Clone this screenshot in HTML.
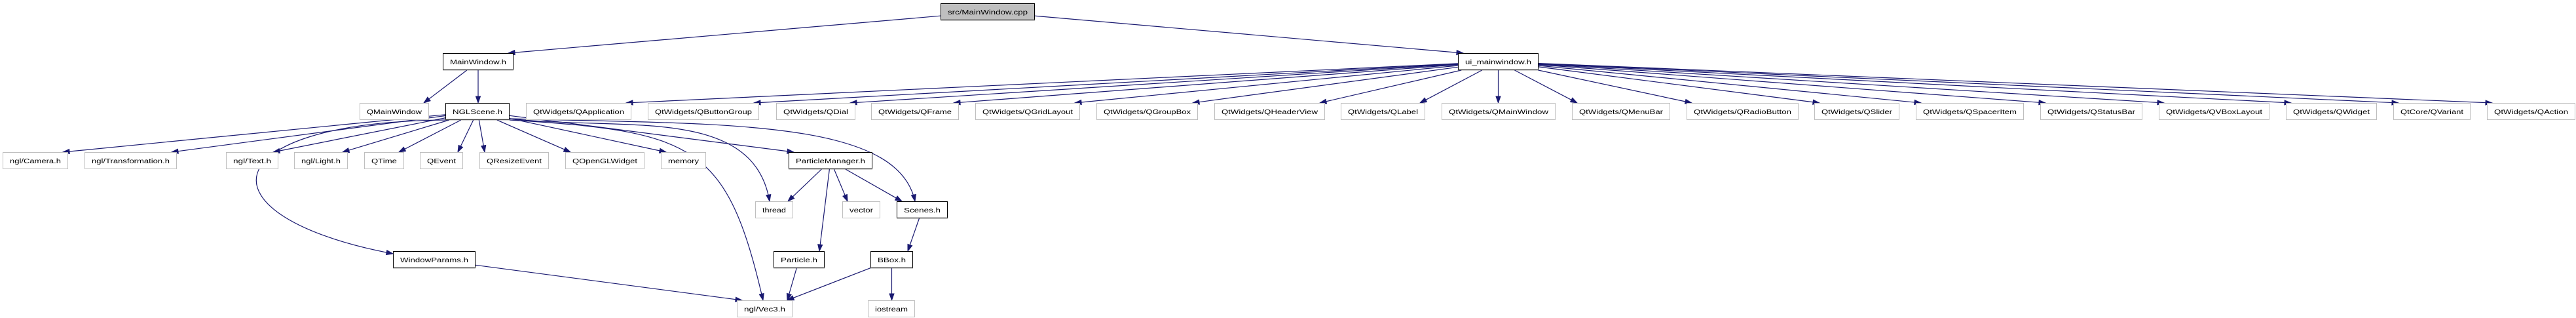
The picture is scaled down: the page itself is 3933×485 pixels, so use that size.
<!DOCTYPE html>
<html><head><meta charset="utf-8"><style>
html,body{margin:0;padding:0;background:#fff;}
svg{display:block;}
text{font-family:"Liberation Sans",sans-serif;font-size:10px;fill:#000;}
</style></head><body>
<svg id="g" width="3933" height="485" viewBox="0 0 3933 485" xmlns="http://www.w3.org/2000/svg">
<g id="edges"></g>
<g id="nodes"></g>
</svg>
<script>
// nodes: id, label, x1, x2, row-top, kind (0 root, 1 documented, 2 external)
const nodeIds=["cpp","mw","ui","qmw","ngl","qapp","qbg","qdial","qframe","qgrid","qgroup","qheader","qlabel","qwmw","qmenu","qradio","qslider","qspacer","qstatus","qvbox","qwidget","qvariant","qaction","cam","trans","text","light","qtime","qevent","qresize","qogl","memory","pm","thread","vector","scenes","wp","particle","bbox","vec3","iostream"];
const nodeLabels=["src/MainWindow.cpp","MainWindow.h","ui_mainwindow.h","QMainWindow","NGLScene.h","QtWidgets/QApplication","QtWidgets/QButtonGroup","QtWidgets/QDial","QtWidgets/QFrame","QtWidgets/QGridLayout","QtWidgets/QGroupBox","QtWidgets/QHeaderView","QtWidgets/QLabel","QtWidgets/QMainWindow","QtWidgets/QMenuBar","QtWidgets/QRadioButton","QtWidgets/QSlider","QtWidgets/QSpacerItem","QtWidgets/QStatusBar","QtWidgets/QVBoxLayout","QtWidgets/QWidget","QtCore/QVariant","QtWidgets/QAction","ngl/Camera.h","ngl/Transformation.h","ngl/Text.h","ngl/Light.h","QTime","QEvent","QResizeEvent","QOpenGLWidget","memory","ParticleManager.h","thread","vector","Scenes.h","WindowParams.h","Particle.h","BBox.h","ngl/Vec3.h","iostream"];
const nodeX1=[1436,676,2226,549,680,803,989,1185,1330,1489,1674,1854,2047,2201,2400,2575,2770,2925,3115,3296,3490,3654,3797,4,129,345,449,556,641,732,863,1009,1204,1153,1286,1369,600,1181,1329,1125,1325];
const nodeX2=[1580,784,2349,655,778,964,1159,1306,1464,1649,1829,2023,2176,2375,2550,2746,2900,3090,3271,3465,3629,3772,3932,104,270,425,531,617,707,838,984,1078,1332,1211,1344,1447,726,1259,1394,1210,1397];
const nodeY=[5,81,81,157,157,157,157,157,157,157,157,157,157,157,157,157,157,157,157,157,157,157,157,232,232,232,232,232,232,232,232,232,232,307,307,307,383,383,383,458,458];
const nodeKind=[0,1,1,2,1,2,2,2,2,2,2,2,2,2,2,2,2,2,2,2,2,2,2,2,2,2,2,2,2,2,2,2,1,2,2,1,1,1,1,2,2];
const edgeFrom=["cpp","cpp","mw","mw","ngl","ngl","ngl","ngl","ngl","ngl","ngl","ngl","ngl","ngl","pm","pm","pm","pm","particle","wp","scenes","bbox","bbox"];
const edgeTo=["mw","ui","qmw","ngl","cam","trans","text","light","qtime","qevent","qresize","qogl","memory","pm","thread","vector","scenes","particle","vec3","vec3","bbox","vec3","iostream"];
const uiTargets=["qapp","qbg","qdial","qframe","qgrid","qgroup","qheader","qlabel","qwmw","qmenu","qradio","qslider","qspacer","qstatus","qvbox","qwidget","qvariant","qaction"];
// curved edges from NGLScene
const curveTo=["wp","thread","scenes","vec3"];
const H=26, NS="http://www.w3.org/2000/svg";
const svg=document.getElementById('g'), eg=document.getElementById('edges'), ng=document.getElementById('nodes');
function N(id){const i=nodeIds.indexOf(id);return {x1:nodeX1[i],x2:nodeX2[i],y1:nodeY[i],y2:nodeY[i]+H,cx:(nodeX1[i]+nodeX2[i])/2,cy:nodeY[i]+H/2};}
function mk(t,a){const e=document.createElementNS(NS,t);for(const k in a)e.setAttribute(k,a[k]);return e;}
function arrow(x,y,dx,dy){const L=Math.hypot(dx,dy);const ux=dx/L,uy=dy/L;const bx=x-ux*10,by=y-uy*10;
  return mk('polygon',{points:`${x},${y} ${bx-uy*3.5},${by+ux*3.5} ${bx+uy*3.5},${by-ux*3.5}`,fill:'#191970',stroke:'#191970'});}
function endPoint(s,t){let ex=Math.max(t.x1+8,Math.min(t.x2-8,s.cx));let ey=t.y1;
  if(t.y1<=s.y1){ey=t.y1+4; ex = s.cx<t.cx? t.x1 : t.x2;}
  return [ex,ey];}
function startPoint(s,ex,ey){const dx=ex-s.cx,dy=ey-s.cy;const w=(s.x2-s.x1)/2,h=H/2;
  const k=Math.min(Math.abs(w/(dx||1e-9)),Math.abs(h/(dy||1e-9)));return [s.cx+dx*k,s.cy+dy*k];}
function straight(a,b,name){const s=N(a),t=N(b);const [ex,ey]=endPoint(s,t);const [sx,sy]=startPoint(s,ex,ey);
  const g=mk('g',{});
  const ux=ex-sx,uy=ey-sy,L=Math.hypot(ux,uy);
  g.appendChild(mk('path',{d:`M${sx},${sy} L${ex-ux/L*9},${ey-uy/L*9}`,stroke:'#191970','stroke-width':1.2,fill:'none'}));
  g.appendChild(arrow(ex,ey,ux,uy));eg.appendChild(g);}
edgeFrom.forEach((f,i)=>straight(f,edgeTo[i],'edge-'+f+'-'+edgeTo[i]));
uiTargets.forEach(t=>straight('ui',t,'edge-ui-'+t));
curveTo.forEach(t=>{const s=N('ngl'),d=N(t);let sx,sy,c1,c2,ex,ey;
  if(t==='wp'){sx=s.x1+2;sy=s.y2;ex=d.x1;ey=d.y1+4;c1=[320,186];c2=[300,330];}
  else if(t==='vec3'){sx=s.x2;sy=s.y2;ex=d.x1+40;ey=d.y1;c1=[1060,200];c2=[1110,220];}
  else{sx=s.x2;sy=s.y2-2;ex=t==='thread'?d.x1+22:d.x1+28;ey=d.y1;c1=t==='thread'?[950,200]:[1100,190];c2=t==='thread'?[1150,160]:[1370,180];}
  const g=mk('g',{});
  g.appendChild(mk('path',{d:`M${sx},${sy} C${c1[0]},${c1[1]} ${c2[0]},${c2[1]} ${ex},${ey}`,stroke:'#191970','stroke-width':1.2,fill:'none'}));
  g.appendChild(arrow(ex,ey,ex-c2[0],ey-c2[1]));eg.appendChild(g);});
nodeIds.forEach((id,i)=>{const n=N(id);const k=nodeKind[i];
  const g=mk('g',{});
  g.appendChild(mk('rect',{x:n.x1+0.5,y:n.y1+0.5,width:n.x2-n.x1-1,height:H-1,fill:k===0?'#bfbfbf':'#fff',stroke:k===2?'#bfbfbf':'#000','stroke-width':1}));
  if(k!==2) g.appendChild(mk('line',{x1:n.x1,y1:n.y2-0.5,x2:n.x2,y2:n.y2-0.5,stroke:'#444','stroke-width':1.5}));
  const tx=mk('text',{x:n.cx,y:n.y1+17,'text-anchor':'middle',textLength:Math.max(10,n.x2-n.x1-22),lengthAdjust:'spacingAndGlyphs'});
  tx.textContent=nodeLabels[i];g.appendChild(tx);ng.appendChild(g);});
</script>
</body></html>
